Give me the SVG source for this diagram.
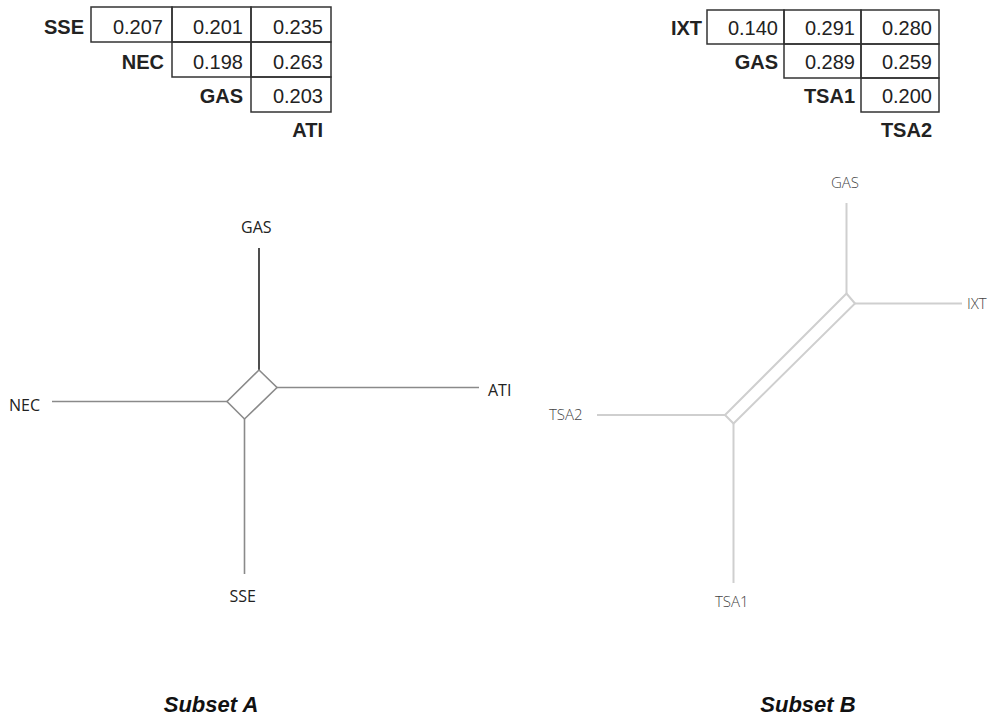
<svg xmlns="http://www.w3.org/2000/svg" width="995" height="719" viewBox="0 0 995 719">
  <style>
    .cell { fill: none; stroke: #333; stroke-width: 1.5; }
    .num { font-family: "Liberation Sans", Arial, sans-serif; font-size: 20px; fill: #222; text-anchor: end; }
    .hdr { font-family: "Liberation Sans", Arial, sans-serif; font-size: 20px; font-weight: bold; fill: #222; text-anchor: end; }
    .edgeA { fill: none; stroke: #8a8a8a; stroke-width: 1.6; }
    .edgeAdark { fill: none; stroke: #222; stroke-width: 1.6; }
    .edgeB { fill: none; stroke: #cfcfcf; stroke-width: 2; }
    .taxA { font-family: "Open Sans", "Noto Sans", sans-serif; font-size: 16px; fill: #222; }
    .taxB { font-family: "Open Sans", "Noto Sans", sans-serif; font-size: 15px; font-weight: 300; fill: #444; }
    .title { font-family: "Liberation Sans", Arial, sans-serif; font-size: 22px; font-weight: bold; font-style: italic; fill: #111; text-anchor: middle; }
  </style>

  <!-- distance matrix, subset A -->
  <g id="matrixA">
    <rect class="cell" x="91" y="7" width="81" height="35"/>
    <rect class="cell" x="172" y="7" width="79" height="35"/>
    <rect class="cell" x="251" y="7" width="80" height="35"/>
    <rect class="cell" x="172" y="42" width="79" height="35"/>
    <rect class="cell" x="251" y="42" width="80" height="35"/>
    <rect class="cell" x="251" y="77" width="80" height="35"/>
    <text class="hdr" x="84" y="34">SSE</text>
    <text class="num" x="163" y="34">0.207</text>
    <text class="num" x="243" y="34">0.201</text>
    <text class="num" x="323" y="34">0.235</text>
    <text class="hdr" x="164" y="69">NEC</text>
    <text class="num" x="243" y="69">0.198</text>
    <text class="num" x="323" y="69">0.263</text>
    <text class="hdr" x="243" y="103">GAS</text>
    <text class="num" x="323" y="103">0.203</text>
    <text class="hdr" x="323" y="137">ATI</text>
  </g>

  <!-- distance matrix, subset B -->
  <g id="matrixB">
    <rect class="cell" x="707" y="10" width="77" height="34"/>
    <rect class="cell" x="784" y="10" width="77" height="34"/>
    <rect class="cell" x="861" y="10" width="78" height="34"/>
    <rect class="cell" x="784" y="44" width="77" height="34"/>
    <rect class="cell" x="861" y="44" width="78" height="34"/>
    <rect class="cell" x="861" y="78" width="78" height="34"/>
    <text class="hdr" x="702" y="35">IXT</text>
    <text class="num" x="778" y="35">0.140</text>
    <text class="num" x="855" y="35">0.291</text>
    <text class="num" x="932" y="35">0.280</text>
    <text class="hdr" x="778" y="69">GAS</text>
    <text class="num" x="855" y="69">0.289</text>
    <text class="num" x="932" y="69">0.259</text>
    <text class="hdr" x="855" y="103">TSA1</text>
    <text class="num" x="932" y="103">0.200</text>
    <text class="hdr" x="932" y="137">TSA2</text>
  </g>

  <!-- split network, subset A -->
  <g id="connectorsA">
    <line class="edgeAdark" x1="259" y1="248" x2="259" y2="370"/>
    <polygon class="edgeA" points="259,370 277,387.5 244.5,419 227,401.5"/>
    <line class="edgeA" x1="277" y1="387.5" x2="479" y2="387.5"/>
    <line class="edgeA" x1="227" y1="401.5" x2="52" y2="401.5"/>
    <line class="edgeA" x1="244.5" y1="419" x2="244.5" y2="574"/>
  </g>
  <g id="nodeA-GAS"><text class="taxA" x="241" y="233">GAS</text></g>
  <g id="nodeA-NEC"><text class="taxA" x="9" y="410.5">NEC</text></g>
  <g id="nodeA-ATI"><text class="taxA" x="488" y="396">ATI</text></g>
  <g id="nodeA-SSE"><text class="taxA" x="229.5" y="601.5">SSE</text></g>

  <!-- split network, subset B -->
  <g id="connectorsB">
    <line class="edgeB" x1="846.5" y1="203" x2="846.5" y2="293.5"/>
    <polygon class="edgeB" points="846.5,293.5 855,303.5 733.5,423.5 725,415"/>
    <line class="edgeB" x1="855" y1="303.5" x2="962" y2="303.5"/>
    <line class="edgeB" x1="725" y1="415" x2="597" y2="415"/>
    <line class="edgeB" x1="733.5" y1="423.5" x2="733.5" y2="583"/>
  </g>
  <g id="nodeB-GAS"><text class="taxB" x="831" y="188">GAS</text></g>
  <g id="nodeB-IXT"><text class="taxB" x="967" y="308.5">IXT</text></g>
  <g id="nodeB-TSA2"><text class="taxB" x="549" y="420">TSA2</text></g>
  <g id="nodeB-TSA1"><text class="taxB" x="715" y="607">TSA1</text></g>

  <text class="title" x="211" y="712">Subset A</text>
  <text class="title" x="808" y="712">Subset B</text>
</svg>
